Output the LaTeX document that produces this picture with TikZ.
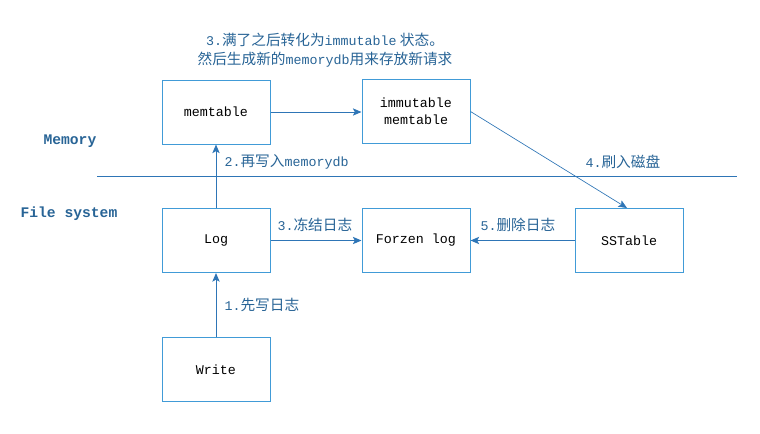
\documentclass[tikz,border=0pt]{standalone}
\usepackage{fontspec}
\setmonofont{Liberation Mono}
\newfontfamily\cjk{Noto Sans CJK SC}
\usetikzlibrary{arrows.meta}

\definecolor{boxblue}{RGB}{65,155,215}
\definecolor{arrowblue}{RGB}{46,117,182}
\definecolor{labelblue}{RGB}{40,100,150}
\newcommand\monotxt[1]{{\ttfamily\fontsize{10}{14}\selectfont #1}}

\tikzset{
box/.style={draw=boxblue, minimum width=81pt, minimum height=48pt, inner sep=0pt, align=center, font=\ttfamily\fontsize{10}{13}\selectfont},
flow/.style={draw=arrowblue, -{Stealth[length=6.5pt,width=5.5pt,inset=1.5pt]}},
stage/.style={text=labelblue, inner sep=0.75pt, anchor=west, font=\cjk\fontsize{11}{14}\selectfont},
layer/.style={text=labelblue, inner sep=0.75pt, anchor=west, font=\ttfamily\bfseries\fontsize{11}{14}\selectfont}}
\tikzset{every picture/.style={line width=0.75pt}}

\begin{document}
\begin{tikzpicture}[x=0.75pt,y=0.75pt,yscale=-1,xscale=1]
\useasboundingbox (0,0) rectangle (760,433);

%Shape: Rectangle [memtable]
\node [box] (memtable) at (216,112) {memtable};
%Shape: Rectangle [immutable]
\node [box] (immutable) at (416,111.5) {immutable\\memtable};
%Shape: Rectangle [log]
\node [box] (log) at (216,240.5) {Log};
%Shape: Rectangle [forzen]
\node [box] (forzen) at (416,240.5) {Forzen log};
%Shape: Rectangle [sstable]
\node [box] (sstable) at (629,240.5) {SSTable};
%Shape: Rectangle [write]
\node [box] (write) at (216,369.5) {Write};

%Straight Lines [divider]
\coordinate (divleft) at (97,176);
\coordinate (divright) at (737,176);
\draw [arrowblue] (divleft) -- (divright);

%Straight Lines [arrows]
\draw [flow] (write) -- (log);
\draw [flow] (log) -- (memtable);
\draw [flow] (memtable) -- (immutable.west |- memtable.east);
\draw [flow] (log) -- (forzen);
\draw [flow] (sstable) -- (forzen);
\draw [flow, line width=0.5pt] (immutable.east) -- ([xshift=-1.5pt]sstable.north);

% Text Node
\node [layer] (memlabel) at (42,141) {Memory};
% Text Node
\node [layer] (fslabel) at (19,214) {File system};
% Text Node
\node [stage, anchor=center, align=center] (title) at (325,50) {\monotxt{3.}满了之后转化为\monotxt{immutable} 状态。\\然后生成新的\monotxt{memorydb}用来存放新请求};
% Text Node
\node [stage] (step1) at (223,305) {\monotxt{1.}先写日志};
% Text Node
\node [stage] (step2) at (223,162) {\monotxt{2.}再写入\monotxt{memorydb}};
% Text Node
\node [stage] (step3) at (276,225) {\monotxt{3.}冻结日志};
% Text Node
\node [stage] (step4) at (584,162) {\monotxt{4.}刷入磁盘};
% Text Node
\node [stage] (step5) at (479,225) {\monotxt{5.}删除日志};

\end{tikzpicture}
\end{document}
